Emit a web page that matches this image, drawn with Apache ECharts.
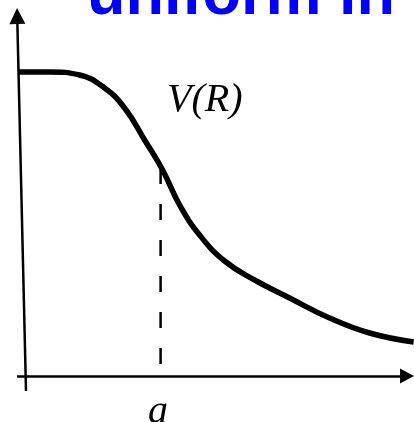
<!DOCTYPE html>
<html>
<head>
<meta charset="utf-8">
<script src="https://cdn.jsdelivr.net/npm/echarts@6/dist/echarts.min.js"></script>
<style>html,body{margin:0;padding:0;background:#fff}#c{width:414px;height:422px}</style>
</head>
<body>
<div id="c"></div>
<script>
// R values and V(R) values of the potential curve (arbitrary units)
const curveR = [-0.7, 2.4, 5.4, 7.9, 9.9, 11.9, 13.7, 15.4, 17.4, 19.9, 22.9, 26.4, 30.4, 34.4, 38.8];
const curveV = [30.4, 30.4, 30.1, 28.8, 26.8, 23.6, 20.6, 17.1, 14.1, 11.5, 9.6, 7.8, 5.8, 4.3, 3.4];
const aValue = 13.5;        // position of "a"
const aCurveV = 20.8;       // V(a)
const xAxisFrom = [-0.86, 0], xAxisTo = [38.14, 0];
const yAxisFrom = [0.04, -1.5], yAxisTo = [-0.84, 36.0];
const titleText = 'uniform in';
const curveLabel = 'V(R)';
const aLabel = 'a';

const chart = echarts.init(document.getElementById('c'));
const arrowEnd = (from, to, size) => [
  {coord: from, symbol: 'none'},
  {coord: to, symbol: 'triangle', symbolSize: size}
];
chart.setOption({
  animation: false,
  grid: {left: 0, right: 0, top: 0, bottom: 0},
  xAxis: {type: 'value', min: -2.56, max: 38.84, show: false},
  yAxis: {type: 'value', min: -4.6, max: 37.6, show: false},
  series: [
    {
      type: 'line',
      data: [[aValue, aCurveV], [aValue, 0]],
      symbol: 'none',
      silent: true,
      lineStyle: {color: '#000', width: 2.5, type: [16, 20], dashOffset: 0, cap: 'butt'}
    },
    {
      type: 'line',
      data: curveR.map((r, i) => [r, curveV[i]]),
      smooth: 0.45,
      symbol: 'none',
      clip: false,
      lineStyle: {color: '#000', width: 5.5},
      markLine: {
        silent: true,
        animation: false,
        label: {show: false},
        symbol: ['none', 'none'],
        lineStyle: {color: '#000', width: 2.5, type: 'solid'},
        data: [
          arrowEnd(xAxisFrom, xAxisTo, [15, 14]),
          arrowEnd(yAxisFrom, yAxisTo, [16, 16])
        ]
      }
    }
  ],
  graphic: [
    {type: 'text', left: 87, top: -35, style: {text: titleText, font: 'bold 63px "Liberation Sans", Arial, sans-serif', fill: '#0000ff'}},
    {type: 'text', left: 167, top: 80, style: {text: curveLabel, font: 'italic 40px "Liberation Serif", "Times New Roman", serif', fill: '#000'}},
    {type: 'text', left: 148, top: 392, style: {text: aLabel, font: 'italic 40px "Liberation Serif", "Times New Roman", serif', fill: '#000'}}
  ]
});
</script>
</body>
</html>
